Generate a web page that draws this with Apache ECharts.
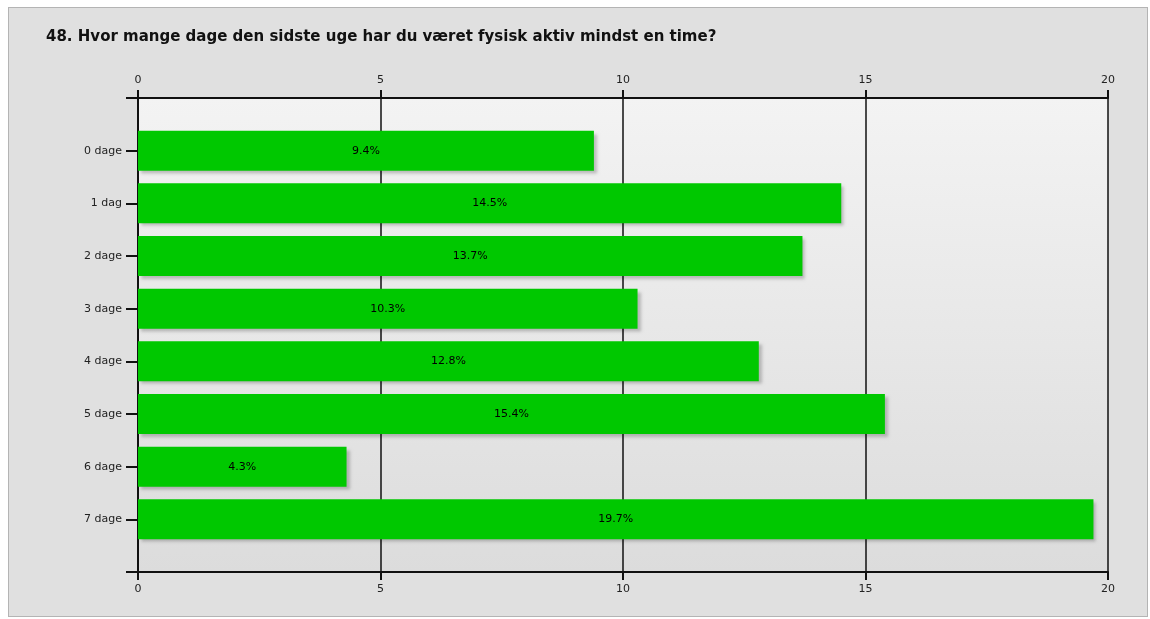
<!DOCTYPE html>
<html>
<head>
<meta charset="utf-8">
<script src="https://cdn.jsdelivr.net/npm/echarts@6/dist/echarts.min.js"></script>
<style>
  html, body { margin: 0; padding: 0; background: #ffffff; }
  #panel { position: absolute; left: 8px; top: 7px; width: 1138px; height: 608px;
           background: #e0e0e0; border: 1px solid #b4b4b4; }
  #chart { position: absolute; left: 0; top: 0; width: 1150px; height: 619px; }
</style>
</head>
<body>
<div id="panel"></div>
<div id="chart"></div>
<script>
// Survey question and answers
const title = '48. Hvor mange dage den sidste uge har du været fysisk aktiv mindst en time?';
const categories = ['0 dage', '1 dag', '2 dage', '3 dage', '4 dage', '5 dage', '6 dage', '7 dage'];
const values = [9.4, 14.5, 13.7, 10.3, 12.8, 15.4, 4.3, 19.7];
const axisMin = 0, axisMax = 20, axisStep = 5;

// Empty slots at both ends give the category axis its top and bottom padding
const yCats = [''].concat(categories, ['']);
const yVals = [null].concat(values, [null]);

const chart = echarts.init(document.getElementById('chart'), null, { renderer: 'canvas' });

const labelFont = { color: '#222', fontSize: 11, fontFamily: 'DejaVu Sans' };

const xCommon = {
  type: 'value', min: axisMin, max: axisMax, interval: axisStep,
  axisLine: { show: true, lineStyle: { color: '#111', width: 2 } },
  axisTick: { show: true, inside: false, length: 8, lineStyle: { color: '#111', width: 2 } },
  axisLabel: Object.assign({ margin: 12 }, labelFont)
};

chart.setOption({
  animation: false,
  title: {
    text: title, left: 41, top: 25,
    textStyle: { fontFamily: 'DejaVu Sans', fontWeight: 'bold', fontSize: 15, color: '#111' }
  },
  grid: {
    left: 138, right: 42, top: 98, bottom: 47, show: true, borderWidth: 0,
    backgroundColor: new echarts.graphic.LinearGradient(0, 0, 0, 1, [
      { offset: 0, color: '#f3f3f3' }, { offset: 1, color: '#dcdcdc' }
    ])
  },
  xAxis: [
    Object.assign({}, xCommon, {
      position: 'top',
      splitLine: { show: true, lineStyle: { color: '#111', width: 1.5 } }
    }),
    Object.assign({}, xCommon, { position: 'bottom', splitLine: { show: false } })
  ],
  yAxis: {
    type: 'category', data: yCats, inverse: true, boundaryGap: false,
    axisLine: { show: true, lineStyle: { color: '#111', width: 2 } },
    axisTick: { show: true, length: 12, lineStyle: { color: '#111', width: 2 } },
    axisLabel: Object.assign({ margin: 16 }, labelFont),
    splitLine: { show: false }
  },
  series: [{
    type: 'bar', xAxisIndex: 0, data: yVals, barWidth: 40,
    itemStyle: {
      color: '#00c800',
      shadowColor: 'rgba(0,0,0,0.22)', shadowBlur: 3, shadowOffsetX: 3, shadowOffsetY: 3
    },
    label: {
      show: true, position: 'inside', formatter: '{c}%',
      color: '#000', fontSize: 11, fontFamily: 'DejaVu Sans'
    }
  }]
});
</script>
</body>
</html>
